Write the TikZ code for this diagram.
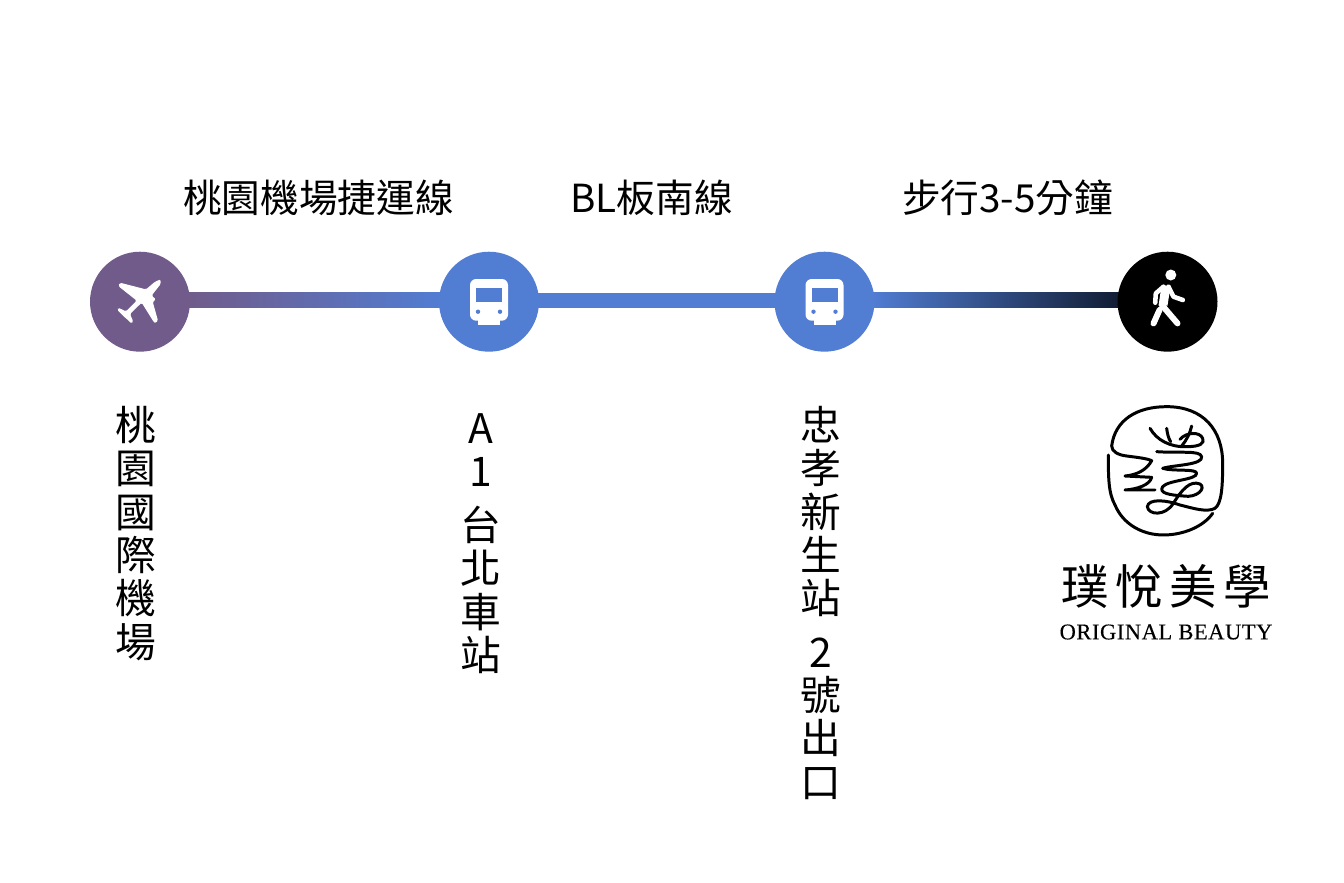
\documentclass[tikz,border=0pt]{standalone}
\usepackage{fontspec}
\usetikzlibrary{backgrounds}
\setmainfont{Noto Sans CJK TC}
\newfontfamily\logofont[LetterSpace=14]{Noto Sans CJK TC}
\newfontfamily\logolatin[LetterSpace=2.5,FakeBold=0.25]{Liberation Serif}
\definecolor{violet}{HTML}{715B8A}
\definecolor{bleu}{HTML}{517DD3}
\definecolor{nuit}{HTML}{111C33}
\begin{document}
\begin{tikzpicture}[x=0.02cm,y=-0.02cm]
\tikzset{rond/.style={circle, minimum size=2cm, inner sep=0pt},
  titre/.style={inner sep=0pt, font=\fontsize{22}{26}\selectfont},
  pile/.style={anchor=north, inner sep=0pt, align=center, font=\fontsize{23.2}{24.65}\selectfont},
  trait/.style={white, line width=3.4pt, line cap=round, line join=round},
  plume/.style={line width=1.7pt, line cap=round, line join=round},
  train/.pic={
    \fill[white, rounded corners=3.5pt] (-19,-22.7) rectangle (19,19);
    \fill[white] (-11,15) rectangle (11,23.3);
    \fill[bleu] (-13,-13.7) rectangle (13,0.6);
    \fill[bleu] (-11,10) circle[radius=2.2] (11,10) circle[radius=2.2];
  }}
\useasboundingbox (0,0) rectangle (1344,882);
\node[rond, fill=violet] (V1) at (140,301.7) {};
\node[rond, fill=bleu] (V2) at (489,301.7) {};
\node[rond, fill=bleu] (V3) at (824.5,301.7) {};
\node[rond, fill=black] (V4) at (1167.5,301.7) {};
% liaisons
\begin{scope}[on background layer]
\shade[left color=violet, middle color=bleu!75!violet, right color=bleu] ([xshift=-2pt, yshift=5pt]V1.east) rectangle ([xshift=2pt, yshift=-3.4pt]V2.west);
\fill[bleu] ([xshift=-2pt, yshift=5pt]V2.east) rectangle ([xshift=2pt, yshift=-3.4pt]V3.west);
\shade[left color=bleu, right color=nuit] ([xshift=-2pt, yshift=5pt]V3.east) rectangle ([xshift=2pt, yshift=-3.4pt]V4.west);
\end{scope}
% icones
\fill[white, rounded corners=0.8pt, shift={(V1.center)}] (20.7,-22.3) -- (20.7,-17.7) -- (13.3,-8.3) -- (11.7,-6)
  -- (16,-2.3) -- (12.7,0) -- (18,19) -- (15.7,21.3) -- (14,20.7) -- (1.7,1) -- (-6,8.3) -- (-10,12.3)
  -- (-6.7,20) -- (-8.7,22) -- (-11.3,19) -- (-16.7,14.3) -- (-22.7,8.3) -- (-21.7,6) -- (-14,9.7)
  -- (-10,5.7) -- (-3.3,-1) -- (-21.7,-15.7) -- (-20,-19) -- (-1.7,-14.3) -- (6,-12.3) -- (15,-20) -- cycle;
\pic at (V2.center) {train};
\pic at (V3.center) {train};
\begin{scope}[shift={(V4.center)}]
\fill[white] (3.3,-26.7) circle[radius=5.5];
\fill[white] (-6,-16) -- (3,-16) -- (0,4) -- (-9,4) -- cycle;
\draw[trait] (-5.7,3.3) -- (10,21.7);
\draw[trait] (-8,8.3) -- (-14,21.7);
\draw[trait, line width=2.6pt] (1,-15) -- (6,-5) -- (15.3,-1.7);
\draw[trait, line width=2.6pt] (-4,-15) -- (-11.7,-8.3) -- (-12.3,1);
\end{scope}
% textes
\node[titre] (T1) at (318.5,198) {桃園機場捷運線};
\node[titre] (T2) at (651.5,198) {BL板南線};
\node[titre] (T3) at (1007.5,198) {步行3-5分鐘};
\node[pile] (N1) at (136,406) {桃\\園\\國\\際\\機\\場};
\node[pile] (N2) at (481,413) {A\\1\\[6pt]台\\北\\車\\站};
\node[pile] (N3) at (821,406) {忠\\孝\\新\\生\\站\\[5.7pt]2\\號\\出\\口};
% logo
\begin{scope}[shift={(1040,390)}, scale=0.3333]
\draw[plume] (215,168) .. controls (225,90) and (290,50) .. (380,50)
  .. controls (490,50) and (548,120) .. (548,220) .. controls (548,290) and (545,340) .. (525,355)
  .. controls (500,368) and (460,355) .. (420,345) .. controls (380,330) and (325,325) .. (322,350)
  .. controls (325,375) and (375,380) .. (400,340) .. controls (425,300) and (450,270) .. (480,282)
  .. controls (500,295) and (470,325) .. (430,318) .. controls (390,315) and (355,310) .. (368,290)
  .. controls (385,270) and (470,270) .. (470,250) .. controls (470,235) and (400,245) .. (368,235)
  .. controls (400,225) and (490,225) .. (485,200) .. controls (480,180) and (420,190) .. (350,185);
\draw[plume] (215,168) .. controls (215,185) and (235,195) .. (260,198) .. controls (290,202) and (320,205) .. (335,212)
  .. controls (320,240) and (290,255) .. (255,258) -- (335,262) .. controls (330,285) and (290,298) .. (255,300) -- (345,300);
\draw[plume] (205,195) .. controls (205,260) and (205,310) .. (225,345) .. controls (250,405) and (310,435) .. (370,435)
  .. controls (430,435) and (490,410) .. (518,370);
\draw[plume] (330,115) .. controls (350,150) and (390,172) .. (440,170) .. controls (480,170) and (495,160) .. (488,145)
  .. controls (480,125) and (440,125) .. (420,148);
\draw[plume] (380,115) .. controls (382,130) and (385,145) .. (392,155);
\draw[plume] (455,108) .. controls (450,130) and (440,150) .. (425,168);
\end{scope}
\node[inner sep=0pt, font=\logofont\fontsize{27}{30}\selectfont] (M1) at (1166,587) {璞悅美學};
\node[inner sep=0pt, font=\logolatin\fontsize{12.8}{14}\selectfont] (M2) at (1166,632) {ORIGINAL BEAUTY};
\end{tikzpicture}
\end{document}
